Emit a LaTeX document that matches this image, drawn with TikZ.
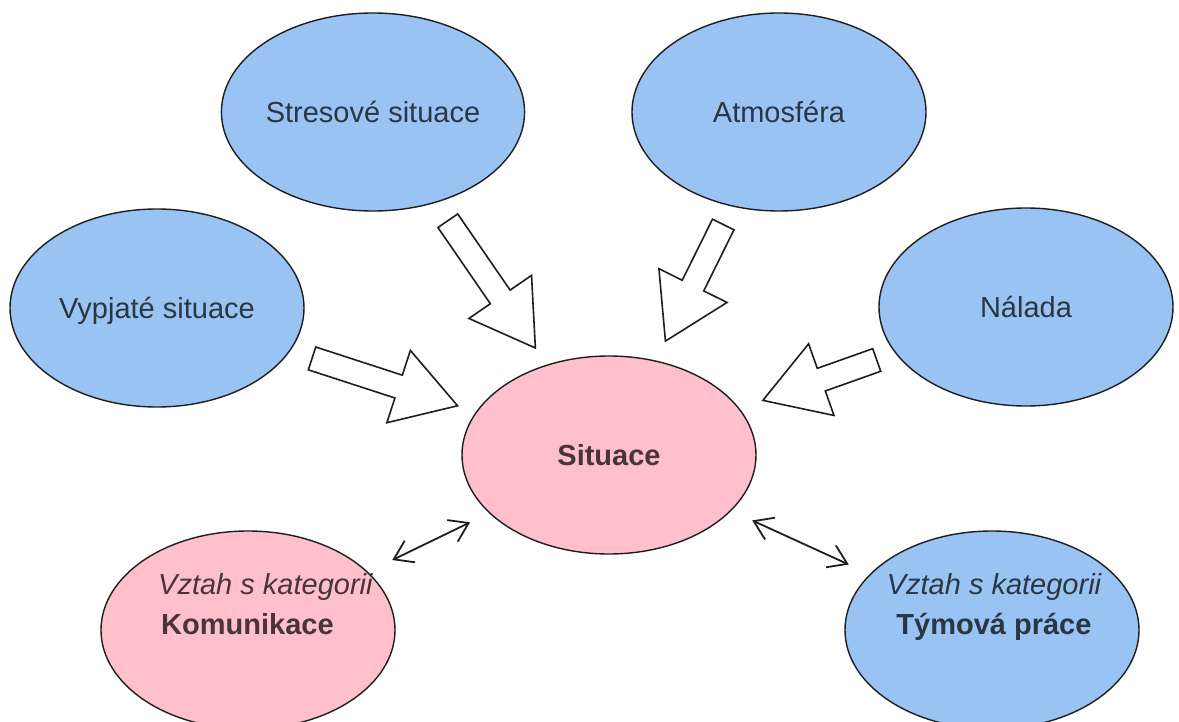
\documentclass[tikz,border=0pt]{standalone}
\usepackage{fontspec}
\setmainfont{Liberation Sans}
\usetikzlibrary{calc,shapes.geometric,arrows.meta}

\definecolor{bubbleblue}{HTML}{99C3F2}
\definecolor{bubblepink}{HTML}{FFC0CC}
\definecolor{inkline}{HTML}{1E1E1E}

\tikzset{
  bubble/.style={ellipse, draw=inkline, line width=1.4pt,
    minimum width=294pt, minimum height=198pt, inner sep=0pt},
  bluebubble/.style={bubble, fill=bubbleblue},
  pinkbubble/.style={bubble, fill=bubblepink},
  caption/.style={font=\fontsize{29}{34}\selectfont, text=black,
    text opacity=0.72, inner sep=0pt, text height=21pt, text depth=0pt},
  captionbold/.style={caption, font=\fontsize{29}{34}\selectfont\bfseries},
  captionit/.style={caption, font=\fontsize{29}{34}\selectfont\itshape},
  relation/.style={draw=inkline, line width=1.8pt,
    {Straight Barb[length=18pt,width=24pt]}-{Straight Barb[length=18pt,width=24pt]}},
  hollowarrow/.style={draw=inkline, fill=white, line width=1.6pt, line join=miter},
}

% hollow block arrow from tail coordinate #1 to tip coordinate #2
\newcommand\hollowblock[2]{%
  \path ($(#2)!62pt!(#1)$) coordinate (hb-#1);
  \draw[hollowarrow]
    ($(#1)!12pt!90:(#2)$) -- ($(hb-#1)!12pt!-90:(#1)$)
    -- ($(hb-#1)!38pt!-90:(#1)$) -- (#2)
    -- ($(hb-#1)!38pt!90:(#1)$) -- ($(hb-#1)!12pt!90:(#1)$)
    -- ($(#1)!12pt!-90:(#2)$) -- cycle;
}

\begin{document}
\begin{tikzpicture}[x=1pt, y=-1pt]
  \clip (0,0) rectangle (1179,722);
  \fill[white] (0,0) rectangle (1179,722);

  % topic bubbles
  \node[bluebubble, caption] (stres) at (373,112) {Stresové situace};
  \node[bluebubble, caption] (atmo)  at (779,112) {Atmosféra};
  \node[bluebubble, caption] (vypj)  at (157,308) {Vypjaté situace};
  \node[bluebubble, caption] (nala)  at (1026,307) {Nálada};
  \node[pinkbubble, captionbold] (sit) at (609,455) {Situace};

  % related categories
  \node[pinkbubble] (kom) at (248,630) {};
  \node[bluebubble] (tym) at (992,630) {};
  \node[captionit, anchor=base west] (komtag) at (158,594) {Vztah s kategorii};
  \node[captionbold, anchor=base west] (komname) at (161,634) {Komunikace};
  \node[captionit, anchor=base] (tymtag) at (994,594) {Vztah s kategorii};
  \node[captionbold, anchor=base] (tymname) at (994,634) {Týmová práce};

  % hollow arrows pointing into the centre
  \coordinate (t1) at ($(stres)!0.317!(sit)$);
  \coordinate (p1) at ($(stres)!0.688!(sit)$);
  \coordinate (t2) at ($(atmo)!0.328!(sit)$);
  \coordinate (p2) at ($(atmo)!0.668!(sit)$);
  \coordinate (t3) at ($(vypj)!0.343!(sit)$);
  \coordinate (p3) at ($(vypj)!0.665!(sit)$);
  \coordinate (t4) at ($(nala)!0.358!(sit)$);
  \coordinate (p4) at ($(nala)!0.631!(sit)$);
  \hollowblock{t1}{p1}
  \hollowblock{t2}{p2}
  \hollowblock{t3}{p3}
  \hollowblock{t4}{p4}

  % two-way relations
  \draw[relation, shorten <=27pt, shorten >=21pt] (kom) -- (sit);
  \draw[relation, shorten <=23pt, shorten >=23pt] (sit) -- (tym);
\end{tikzpicture}
\end{document}
